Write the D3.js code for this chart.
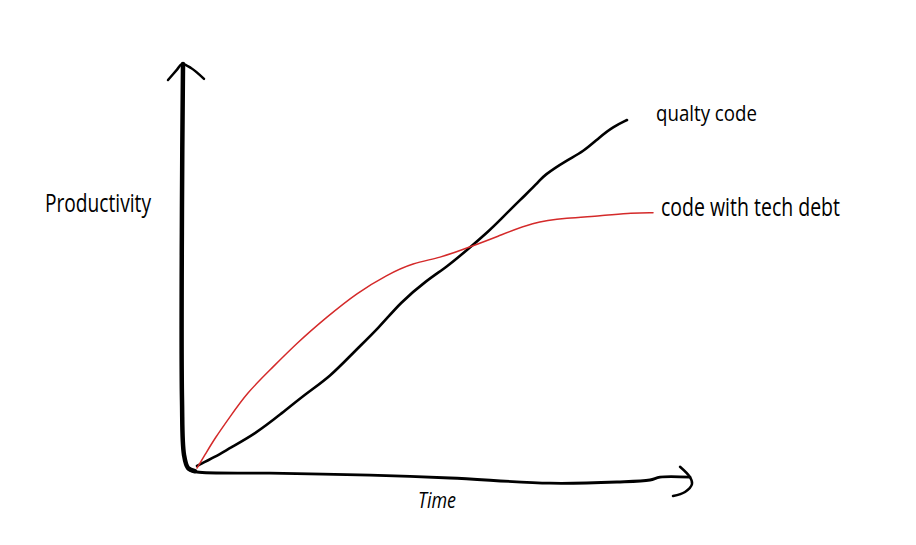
<!DOCTYPE html>
<html>
<head>
<meta charset="utf-8">
<script src="https://d3js.org/d3.v7.min.js"></script>
<style>
	html, body { margin: 0; padding: 0; background: #fff; }
	svg text { font-family: 'Open Sans', 'DejaVu Sans', sans-serif; font-weight: 400; fill: #000; }
</style>
</head>
<body>
<div id="chart"></div>
<script>
// Series (time 0-100, productivity 0-100)
const qualityTime = [0.4, 4, 7, 12, 17, 22.4, 27, 31.6, 37, 41, 46.4, 50.4, 54.4, 59, 61, 65, 69, 69.6, 74.4, 77.6, 81, 83.6, 86.4];
const qualityProd = [0.5, 2.8, 5, 8.5, 13.3, 18.8, 22.8, 28.8, 35.3, 41.3, 47, 50.3, 54.5, 59.5, 62, 67, 71.8, 73, 77, 79, 82.8, 85.3, 87];

const debtTime = [0.4, 2, 4, 7, 10.4, 15, 20.4, 26.4, 32.4, 38.4, 43.6, 49, 54.4, 60.4, 67.6, 74.4, 81, 87.6, 91.6];
const debtProd = [0, 3.3, 7.5, 12.8, 18.8, 24.5, 31.3, 37.8, 43.8, 48.3, 51.3, 52.5, 55, 57.8, 61.5, 62.5, 63, 63.8, 63.8];

// Hand drawn axis strokes, same units
const yAxisTime = [-2.4, -2.6, -2.6, -2.2, -1.4, 0];
const yAxisProd = [101, 67, 17, 3.3, 0, -0.8];
const yArrowTime = [-5.4, -3.6, -2.6, -0.8, 1.8];
const yArrowProd = [97, 99.6, 101, 100, 97.3];

const xAxisTime = [-1, 0.4, 15, 35, 51, 71, 84.4, 91, 93, 99];
const xAxisProd = [-0.5, -1, -1.3, -1.8, -2.5, -3.8, -3.5, -3, -2.3, -2.3];
const xArrowTime = [97, 99, 99.4, 98, 95.6];
const xArrowProd = [0.3, -2.3, -4, -6, -7];

const seriesNames = ['qualty code', 'code with tech debt'];
const axisTitles = ['Productivity', 'Time'];

const width = 916, height = 545;

const x = d3.scaleLinear().domain([0, 100]).range([195, 695]);
const y = d3.scaleLinear().domain([0, 100]).range([468, 68]);

const svg = d3.select('#chart').append('svg')
	.attr('width', width)
	.attr('height', height);

const zipPts = (xs, ys) => xs.map((v, i) => [v, ys[i]]);

// Axes pass through their points, the pen lines are smoothed a little more
const sketch = d3.line()
	.x(d => x(d[0]))
	.y(d => y(d[1]))
	.curve(d3.curveCatmullRom.alpha(0.5));

const smooth = d3.line()
	.x(d => x(d[0]))
	.y(d => y(d[1]))
	.curve(d3.curveBasis);

const stroke = function(d, line, colour, w) {
	svg.append('path')
		.attr('d', line(d))
		.attr('fill', 'none')
		.attr('stroke', colour)
		.attr('stroke-width', w)
		.attr('stroke-linecap', 'round')
		.attr('stroke-linejoin', 'round');
};

// Axes
stroke(zipPts(yAxisTime, yAxisProd), sketch, '#000', 4.5);
stroke(zipPts(yArrowTime, yArrowProd), sketch, '#000', 2.5);
stroke(zipPts(xAxisTime, xAxisProd), sketch, '#000', 2.8);
stroke(zipPts(xArrowTime, xArrowProd), sketch, '#000', 2.5);

// Series
const quality = zipPts(qualityTime, qualityProd);
const debt = zipPts(debtTime, debtProd);

stroke(quality, smooth, '#000', 2.6);
stroke(debt, smooth, '#d42a2a', 1.5);

// Series labels, placed after the last point of each line
const qEnd = quality[quality.length - 1];
svg.append('text')
	.attr('x', x(qEnd[0]) + 29)
	.attr('y', y(qEnd[1]) + 1)
	.attr('font-size', 21)
	.attr('textLength', 101)
	.attr('lengthAdjust', 'spacingAndGlyphs')
	.text(seriesNames[0]);

const dEnd = debt[debt.length - 1];
svg.append('text')
	.attr('x', x(dEnd[0]) + 8)
	.attr('y', y(dEnd[1]) + 3)
	.attr('font-size', 25)
	.attr('textLength', 179)
	.attr('lengthAdjust', 'spacingAndGlyphs')
	.text(seriesNames[1]);

// Axis titles
svg.append('text')
	.attr('x', 45)
	.attr('y', 212)
	.attr('font-size', 25)
	.attr('textLength', 106)
	.attr('lengthAdjust', 'spacingAndGlyphs')
	.text(axisTitles[0]);

svg.append('text')
	.attr('x', 418)
	.attr('y', 508)
	.attr('font-size', 22)
	.attr('font-style', 'italic')
	.attr('textLength', 38)
	.attr('lengthAdjust', 'spacingAndGlyphs')
	.text(axisTitles[1]);
</script>
</body>
</html>
